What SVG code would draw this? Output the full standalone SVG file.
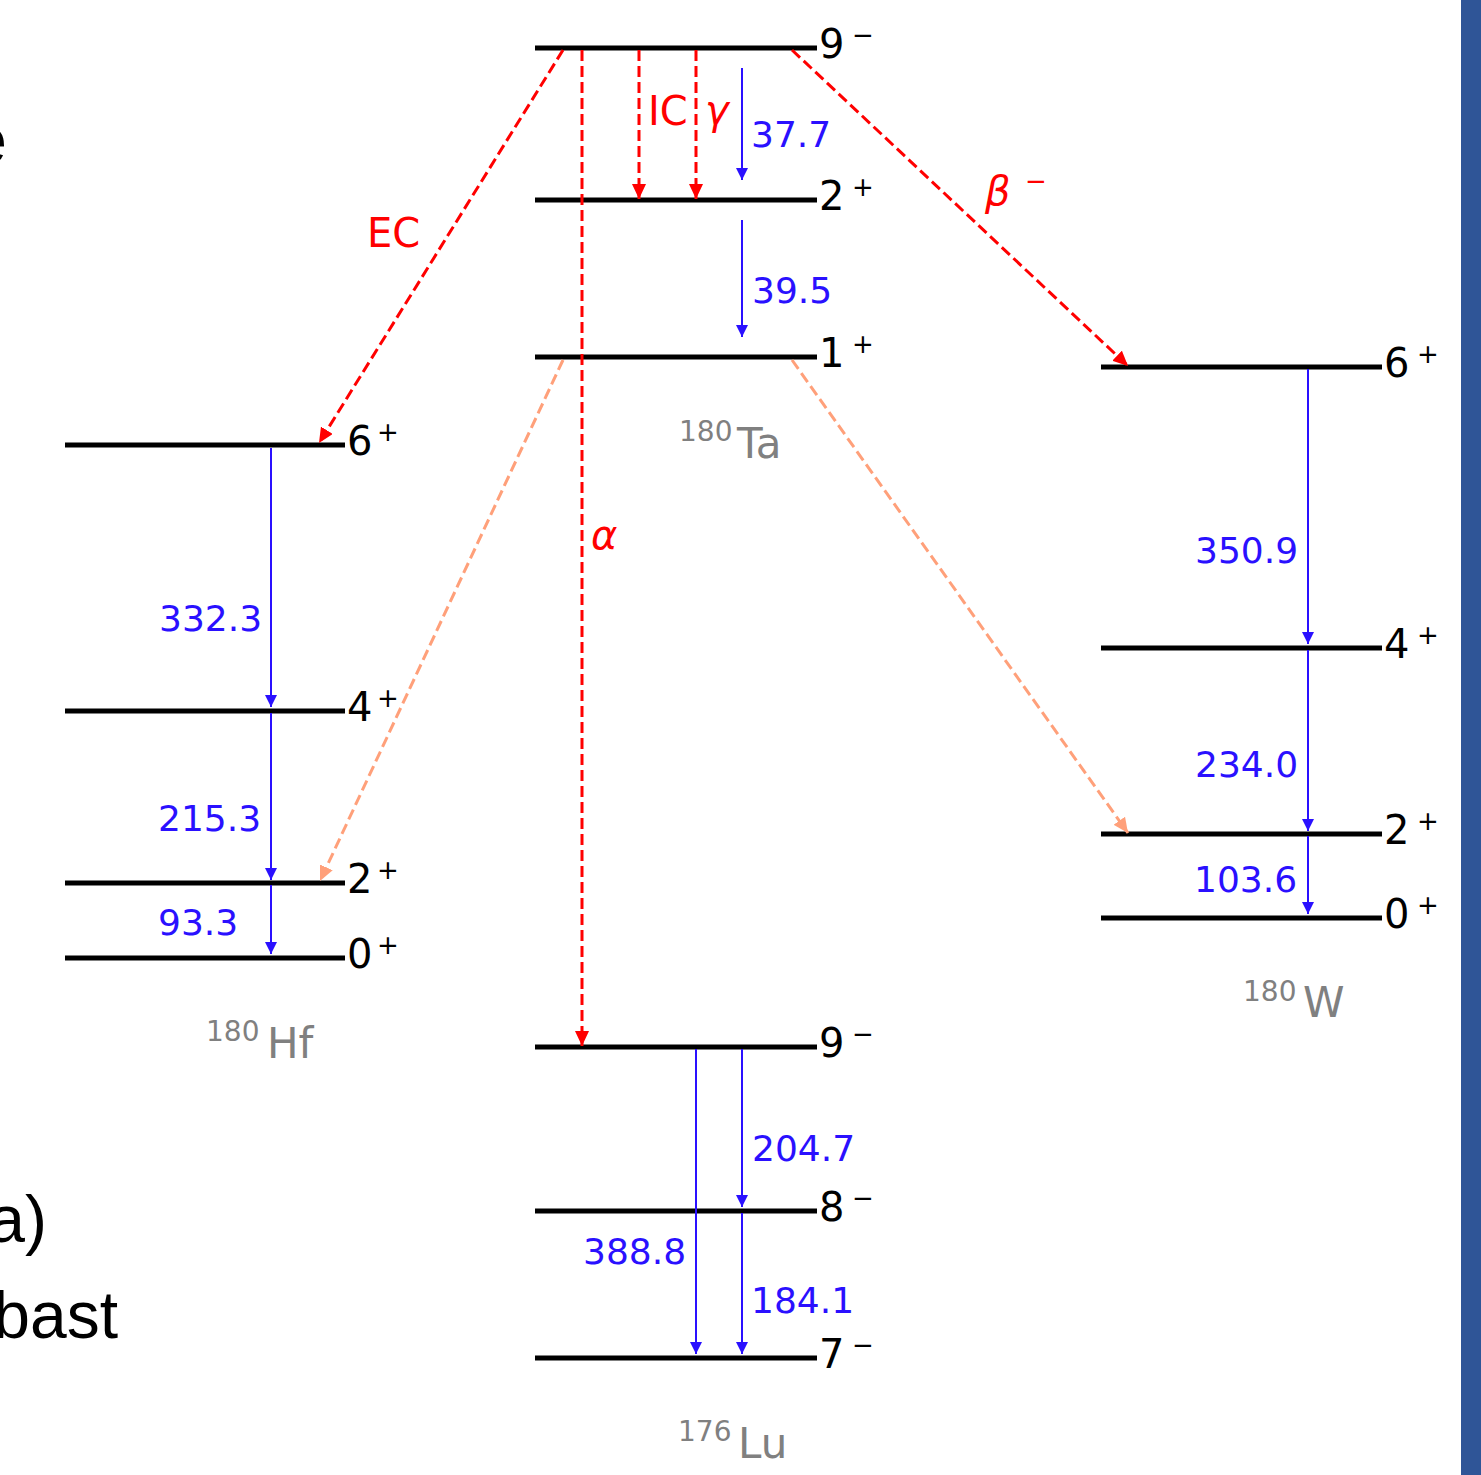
<svg xmlns="http://www.w3.org/2000/svg" width="1481" height="1475" viewBox="0 0 1481 1475">
<style>
.lv{stroke:#000;stroke-width:5;fill:none}
.lvl{font-family:"DejaVu Sans",sans-serif;font-size:40px;fill:#000}
.sup{font-family:"DejaVu Sans",sans-serif;font-size:26px;fill:#000}
.nuc{font-family:"DejaVu Sans",sans-serif;font-size:42px;fill:#808080}
.nsup{font-family:"DejaVu Sans",sans-serif;font-size:28px;fill:#808080}
.en{font-family:"DejaVu Sans",sans-serif;font-size:36px;fill:#2a10ff}
.rt{font-family:"DejaVu Sans",sans-serif;font-size:40px;fill:#ff0000}
.it{font-style:italic}
.b{stroke:#2a10ff;stroke-width:2;fill:none;marker-end:url(#hb)}
.r{stroke:#ff0000;stroke-width:3;fill:none;stroke-dasharray:11 5;marker-end:url(#hr)}
.o{stroke:#ffa07a;stroke-width:3;fill:none;stroke-dasharray:11 5;marker-end:url(#ho)}
.slide{font-family:"Liberation Sans",sans-serif;font-size:66px;fill:#000}
</style>
<defs>
<marker id="hb" markerUnits="userSpaceOnUse" markerWidth="12" markerHeight="12" viewBox="0 0 12 12" refX="12" refY="6" orient="auto"><path d="M0,0 L12,6 L0,12 z" fill="#2a10ff"/></marker>
<marker id="hr" markerUnits="userSpaceOnUse" markerWidth="15" markerHeight="14" viewBox="0 0 15 14" refX="15" refY="7" orient="auto"><path d="M0,0 L15,7 L0,14 z" fill="#ff0000"/></marker>
<marker id="ho" markerUnits="userSpaceOnUse" markerWidth="15" markerHeight="14" viewBox="0 0 15 14" refX="15" refY="7" orient="auto"><path d="M0,0 L15,7 L0,14 z" fill="#ffa07a"/></marker>
</defs>
<rect x="0" y="0" width="1481" height="1475" fill="#ffffff"/>
<rect x="1461" y="0" width="20" height="1475" fill="#2f5597"/>
<g id="slide-text">
<text class="slide" x="7" y="163" text-anchor="end">e</text>
<text class="slide" x="47" y="1242" text-anchor="end">a)</text>
<text class="slide" x="118" y="1338" text-anchor="end">bast</text>
</g>
<g id="Ta180">
<line class="lv" x1="535" y1="48" x2="817" y2="48"/>
<text class="lvl" x="819" y="58">9</text><text class="sup" x="852" y="44">−</text>
<line class="lv" x1="535" y1="200" x2="817" y2="200"/>
<text class="lvl" x="819" y="210">2</text><text class="sup" x="852" y="196">+</text>
<line class="lv" x1="535" y1="357" x2="817" y2="357"/>
<text class="lvl" x="819" y="367">1</text><text class="sup" x="852" y="353">+</text>
<text class="nsup" x="679" y="441">180</text><text class="nuc" x="737" y="458">Ta</text>
</g>
<g id="Hf180">
<line class="lv" x1="65" y1="445" x2="345" y2="445"/>
<text class="lvl" x="347" y="455">6</text><text class="sup" x="377" y="441">+</text>
<line class="lv" x1="65" y1="711" x2="345" y2="711"/>
<text class="lvl" x="347" y="721">4</text><text class="sup" x="377" y="707">+</text>
<line class="lv" x1="65" y1="883" x2="345" y2="883"/>
<text class="lvl" x="347" y="893">2</text><text class="sup" x="377" y="879">+</text>
<line class="lv" x1="65" y1="958" x2="345" y2="958"/>
<text class="lvl" x="347" y="968">0</text><text class="sup" x="377" y="954">+</text>
<text class="nsup" x="206" y="1041">180</text><text class="nuc" x="267" y="1058">Hf</text>
</g>
<g id="W180">
<line class="lv" x1="1101" y1="367" x2="1382" y2="367"/>
<text class="lvl" x="1384" y="377">6</text><text class="sup" x="1417" y="363">+</text>
<line class="lv" x1="1101" y1="648" x2="1382" y2="648"/>
<text class="lvl" x="1384" y="658">4</text><text class="sup" x="1417" y="644">+</text>
<line class="lv" x1="1101" y1="834" x2="1382" y2="834"/>
<text class="lvl" x="1384" y="844">2</text><text class="sup" x="1417" y="830">+</text>
<line class="lv" x1="1101" y1="918" x2="1382" y2="918"/>
<text class="lvl" x="1384" y="928">0</text><text class="sup" x="1417" y="914">+</text>
<text class="nsup" x="1243" y="1001">180</text><text class="nuc" x="1303" y="1017">W</text>
</g>
<g id="Lu176">
<line class="lv" x1="535" y1="1047" x2="817" y2="1047"/>
<text class="lvl" x="819" y="1057">9</text><text class="sup" x="852" y="1043">−</text>
<line class="lv" x1="535" y1="1211" x2="817" y2="1211"/>
<text class="lvl" x="819" y="1221">8</text><text class="sup" x="852" y="1207">−</text>
<line class="lv" x1="535" y1="1358" x2="817" y2="1358"/>
<text class="lvl" x="819" y="1368">7</text><text class="sup" x="852" y="1354">−</text>
<text class="nsup" x="678" y="1441">176</text><text class="nuc" x="738" y="1458">Lu</text>
</g>
<g id="connectors">
<line class="r" x1="582" y1="50" x2="582" y2="1046"/>
<line class="r" x1="639" y1="50" x2="639" y2="199"/>
<line class="r" x1="696" y1="50" x2="696" y2="199"/>
<line class="r" x1="563" y1="50" x2="319" y2="443"/>
<line class="r" x1="792" y1="50" x2="1128" y2="366"/>
<line class="o" x1="563" y1="360" x2="320" y2="881"/>
<line class="o" x1="792" y1="360" x2="1128" y2="833"/>
<line class="b" x1="742" y1="68" x2="742" y2="180"/>
<line class="b" x1="742" y1="220" x2="742" y2="337"/>
<line class="b" x1="271" y1="448" x2="271" y2="707"/>
<line class="b" x1="271" y1="713" x2="271" y2="880"/>
<line class="b" x1="271" y1="885" x2="271" y2="954"/>
<line class="b" x1="1308" y1="369" x2="1308" y2="644"/>
<line class="b" x1="1308" y1="650" x2="1308" y2="831"/>
<line class="b" x1="1308" y1="836" x2="1308" y2="914"/>
<line class="b" x1="696" y1="1049" x2="696" y2="1354"/>
<line class="b" x1="742" y1="1049" x2="742" y2="1207"/>
<line class="b" x1="742" y1="1213" x2="742" y2="1354"/>
</g>
<g id="labels">
<text class="rt" x="367" y="247">EC</text>
<text class="rt" x="648" y="125">IC</text>
<text class="rt it" x="705" y="124">γ</text>
<text class="rt it" x="591" y="549">α</text>
<text class="rt it" x="985" y="205">β</text><text class="rt" x="1025" y="190" style="font-size:26px">−</text>
<text class="en" x="751" y="147">37.7</text>
<text class="en" x="752" y="303">39.5</text>
<text class="en" x="159" y="631">332.3</text>
<text class="en" x="158" y="831">215.3</text>
<text class="en" x="158" y="935">93.3</text>
<text class="en" x="1195" y="563">350.9</text>
<text class="en" x="1195" y="777">234.0</text>
<text class="en" x="1194" y="892">103.6</text>
<text class="en" x="752" y="1161">204.7</text>
<text class="en" x="583" y="1264">388.8</text>
<text class="en" x="751" y="1313">184.1</text>
</g>
</svg>
